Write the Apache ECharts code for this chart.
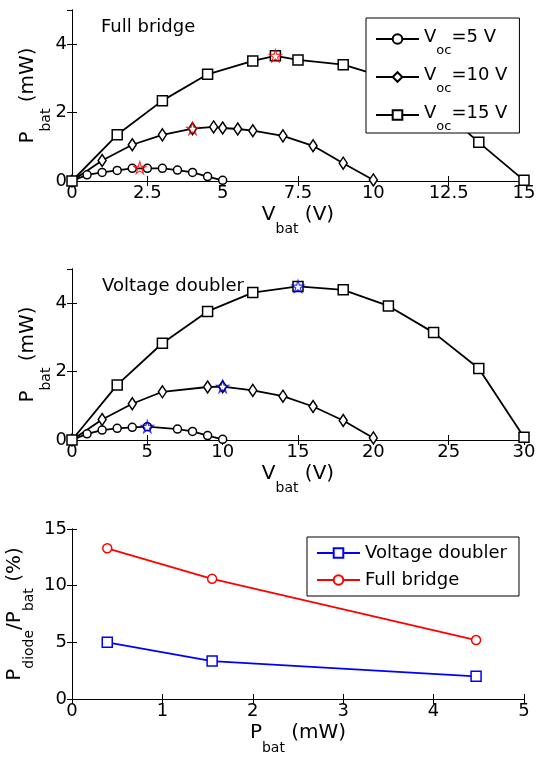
<!DOCTYPE html>
<html>
<head>
<meta charset="utf-8">
<script src="https://cdn.jsdelivr.net/npm/echarts@6/dist/echarts.min.js"></script>
<style>
html, body { margin: 0; padding: 0; background: #fff; }
#chart { width: 536px; height: 758px; }
</style>
</head>
<body>
<div id="chart"></div>
<script>
var FONT = 'DejaVu Sans';

// full bridge: P_bat (mW) vs V_bat (V)
var fb5V = [0, 0.5, 1, 1.5, 2, 2.5, 3, 3.5, 4, 4.5, 5];
var fb5P = [0, 0.18, 0.25, 0.31, 0.37, 0.37, 0.37, 0.32, 0.25, 0.13, 0.02];
var fb10V = [0, 1, 2, 3, 4, 4.7, 5, 5.5, 6, 7, 8, 9, 10];
var fb10P = [0, 0.60, 1.06, 1.35, 1.53, 1.58, 1.55, 1.52, 1.47, 1.32, 1.03, 0.52, 0.03];
var fb15V = [0, 1.5, 3, 4.5, 6, 6.75, 7.5, 9, 10.5, 12, 13.5, 15];
var fb15P = [0, 1.35, 2.35, 3.12, 3.51, 3.66, 3.54, 3.40, 3.0, 2.3, 1.13, 0.02];
var fbMaxV = [2.25, 4, 6.75];
var fbMaxP = [0.39, 1.53, 3.66];

// voltage doubler
var vd5V = [0, 1, 2, 3, 4, 5, 7, 8, 9, 10];
var vd5P = [0, 0.18, 0.29, 0.34, 0.37, 0.39, 0.32, 0.25, 0.13, 0.02];
var vd10V = [0, 2, 4, 6, 9, 10, 12, 14, 16, 18, 20];
var vd10P = [0, 0.60, 1.06, 1.41, 1.55, 1.56, 1.45, 1.28, 0.98, 0.57, 0.06];
var vd15V = [0, 3, 6, 9, 12, 15, 18, 21, 24, 27, 30];
var vd15P = [0, 1.61, 2.83, 3.76, 4.31, 4.49, 4.39, 3.92, 3.14, 2.09, 0.08];
var vdMaxV = [5, 10, 15];
var vdMaxP = [0.39, 1.56, 4.49];

// diode loss ratio (%) at the max power points
var lossPbat = [0.39, 1.55, 4.47];
var lossVd = [5.0, 3.35, 2.0];
var lossFb = [13.3, 10.6, 5.2];

var vocNames = ['Voc=5 V', 'Voc=10 V', 'Voc=15 V'];
var vocValues = ['5 V', '10 V', '15 V'];
var lossNames = ['Voltage doubler', 'Full bridge'];

// axis ranges [min, max, step]
var fbVRange = [0, 15, 2.5];
var vdVRange = [0, 30, 5];
var pRange = [0, 5, 2];
var lossXRange = [0, 5, 1];
var lossYRange = [0, 15, 5];

var STAR = 'path://M50,0 L61,35 L98,35 L68,57 L79,91 L50,70 L21,91 L32,57 L2,35 L39,35 Z';

function pts(xs, ys) {
  return xs.map(function (x, i) { return [x, ys[i]]; });
}

function richStyle(subPad) {
  return {
    color: '#000', fontFamily: FONT, fontSize: 20,
    rich: {
      m: { color: '#000', fontFamily: FONT, fontSize: 20, padding: [0, 0, 6, 0] },
      s: { color: '#000', fontFamily: FONT, fontSize: 14, padding: [subPad, 0, 0, 0] }
    }
  };
}

var lineCol = { color: '#000', width: 1 };
var tick = { inside: true, length: 5, lineStyle: { color: '#000' } };

function axisPair(dim, grid, r, name, gap, subPad, hideMax) {
  var main = {
    type: 'value', gridIndex: grid, min: r[0], max: r[1], interval: r[2],
    position: dim === 'x' ? 'bottom' : 'left',
    name: name, nameLocation: 'middle', nameGap: gap, nameMoveOverlap: false,
    nameTextStyle: richStyle(subPad),
    axisLine: { show: true, lineStyle: lineCol }, axisTick: tick,
    axisLabel: { color: '#000', fontFamily: FONT, fontSize: 18, margin: dim === 'x' ? 3 : 5,
      showMaxLabel: !hideMax },
    splitLine: { show: false }
  };
  var other = {
    type: 'value', gridIndex: grid, min: r[0], max: r[1], interval: r[2],
    position: dim === 'x' ? 'top' : 'right',
    axisLine: { show: true, lineStyle: lineCol }, axisTick: tick,
    axisLabel: { show: false }, splitLine: { show: false }
  };
  return [main, other];
}

function curve(name, ai, data, symbol, size, color) {
  return {
    type: 'line', name: name, xAxisIndex: ai, yAxisIndex: ai, data: data,
    symbol: symbol, symbolSize: size, showAllSymbol: true,
    lineStyle: { color: color, width: 1.8 },
    itemStyle: { color: '#fff', borderColor: color, borderWidth: 1.5 },
    z: 2
  };
}

function stars(ai, data, color) {
  return {
    type: 'scatter', xAxisIndex: ai, yAxisIndex: ai, data: data,
    symbol: STAR, symbolSize: 12,
    itemStyle: { color: 'rgba(0,0,0,0)', borderColor: color, borderWidth: 1.2 },
    z: 4
  };
}

// each panel has a bottom/left axis with labels and a top/right one with ticks only
var xAxis = [].concat(
  axisPair('x', 0, fbVRange, '{m|V}{s|bat}{m| (V)}', 19, 22, false),
  axisPair('x', 1, vdVRange, '{m|V}{s|bat}{m| (V)}', 19, 22, false),
  axisPair('x', 2, lossXRange, '{m|P}{s|bat}{m| (mW)}', 17, 25, false)
);
var yAxis = [].concat(
  axisPair('y', 0, pRange, '{m|P}{s|bat}{m| (mW)}', 19, 31, true),
  axisPair('y', 1, pRange, '{m|P}{s|bat}{m| (mW)}', 19, 31, true),
  axisPair('y', 2, lossYRange, '{m|P}{s|diode}{m|/P}{s|bat}{m| (%)}', 36, 23, false)
);

// series sit on axis index 0, 2, 4 (bottom/left of each panel)
var series = [
  curve(vocNames[0], 0, pts(fb5V, fb5P), 'circle', 8, '#000'),
  curve(vocNames[1], 0, pts(fb10V, fb10P), 'diamond', [8, 12], '#000'),
  curve(vocNames[2], 0, pts(fb15V, fb15P), 'rect', 10, '#000'),
  stars(0, pts(fbMaxV, fbMaxP), '#ff0000'),
  curve(vocNames[0], 2, pts(vd5V, vd5P), 'circle', 8, '#000'),
  curve(vocNames[1], 2, pts(vd10V, vd10P), 'diamond', [8, 12], '#000'),
  curve(vocNames[2], 2, pts(vd15V, vd15P), 'rect', 10, '#000'),
  stars(2, pts(vdMaxV, vdMaxP), '#0000ff'),
  curve(lossNames[0], 4, pts(lossPbat, lossVd), 'rect', 10, '#0000ff'),
  curve(lossNames[1], 4, pts(lossPbat, lossFb), 'circle', 9, '#ff0000')
];

var chart = echarts.init(document.getElementById('chart'));
chart.setOption({
  animation: false,
  backgroundColor: '#fff',
  grid: [
    { left: 72, top: 10, width: 452, height: 171, outerBoundsMode: 'none' },
    { left: 72, top: 269, width: 452, height: 171, outerBoundsMode: 'none' },
    { left: 72, top: 529, width: 452, height: 170, outerBoundsMode: 'none' }
  ],
  xAxis: xAxis,
  yAxis: yAxis,
  legend: [{
    data: vocNames, orient: 'vertical', left: 366, top: 18,
    padding: [10, 12, 0, 9], itemGap: 9, itemWidth: 43, itemHeight: 12,
    backgroundColor: '#fff', borderColor: '#000', borderWidth: 1, selectedMode: false,
    formatter: function (n) {
      return '{m|V}{s|oc}{m|=' + vocValues[vocNames.indexOf(n)] + '}';
    },
    textStyle: {
      color: '#000', fontFamily: FONT, fontSize: 18,
      rich: {
        m: { color: '#000', fontFamily: FONT, fontSize: 18, padding: [0, 0, 4, 0] },
        s: { color: '#000', fontFamily: FONT, fontSize: 13, padding: [23, 0, 0, 0] }
      }
    }
  }, {
    data: lossNames, orient: 'vertical', left: 307, top: 537,
    padding: [7, 12, 7, 9], itemGap: 9, itemWidth: 43, itemHeight: 12,
    backgroundColor: '#fff', borderColor: '#000', borderWidth: 1, selectedMode: false,
    textStyle: { color: '#000', fontFamily: FONT, fontSize: 18 }
  }],
  graphic: [
    { type: 'text', x: 101, y: 27.5, z: 10,
      style: { text: 'Full bridge', fontFamily: FONT, fontSize: 18, fill: '#000', verticalAlign: 'middle' } },
    { type: 'text', x: 102, y: 286.5, z: 10,
      style: { text: 'Voltage doubler', fontFamily: FONT, fontSize: 18, fill: '#000', verticalAlign: 'middle' } }
  ],
  series: series
});
</script>
</body>
</html>
